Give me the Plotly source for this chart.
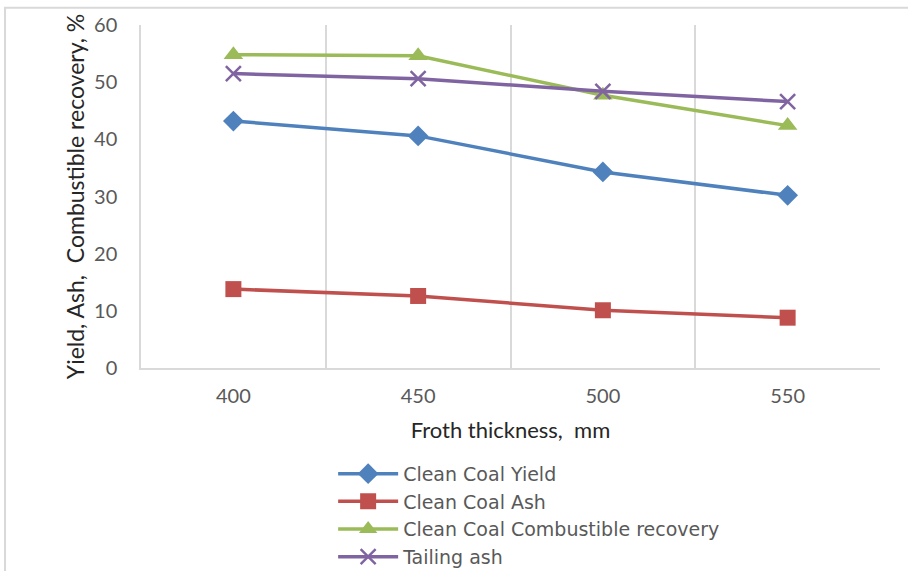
import plotly.graph_objects as go

thickness = ["400", "450", "500", "550"]
clean_coal_yield = [43.2, 40.6, 34.3, 30.2]
clean_coal_ash = [13.8, 12.6, 10.1, 8.8]
combustible_recovery = [54.8, 54.6, 47.7, 42.4]
tailing_ash = [51.5, 50.6, 48.4, 46.6]

FONT = "Lato"
GRID = "#d9d9d9"
TICK = "#595959"

series = [
    ("Clean Coal Yield", clean_coal_yield, "#4F81BD", dict(symbol="diamond", size=16)),
    ("Clean Coal Ash", clean_coal_ash, "#C0504D", dict(symbol="square", size=16)),
    ("Clean Coal Combustible recovery", combustible_recovery, "#9BBB59", dict(symbol="triangle-up", size=17)),
    ("Tailing ash", tailing_ash, "#8064A2", dict(symbol="x-thin-open", size=15, line=dict(width=2.5, color="#8064A2"))),
]

fig = go.Figure()
for name, vals, color, mk in series:
    marker = dict(color=color, **mk)
    fig.add_trace(go.Scatter(x=thickness, y=vals, name=name, mode="lines+markers",
                             line=dict(color=color, width=3.5), marker=marker))

fig.update_layout(
    width=908, height=571,
    margin=dict(l=141, r=28, t=25, b=203, autoexpand=False),
    paper_bgcolor="white", plot_bgcolor="white",
    font=dict(family=FONT, size=18, color=TICK),
    showlegend=True,
    legend=dict(x=0.26, y=-0.253, xanchor="left", yanchor="top",
                font=dict(family="DejaVu Sans", size=19, color=TICK),
                tracegroupgap=0, itemwidth=60, bgcolor="rgba(0,0,0,0)"),
    xaxis=dict(type="category", tickson="boundaries", showgrid=True, gridcolor=GRID, gridwidth=1.5,
               showline=True, linecolor=GRID, linewidth=1.5, ticks="", mirror=False,
               range=[-0.5, 3.5], tickfont=dict(family=FONT, size=20, color=TICK),
               ticklabelstandoff=9,
               title=dict(text="Froth thickness,  mm", font=dict(family=FONT, size=22, color="#262626"), standoff=17)),
    yaxis=dict(range=[0, 60], dtick=10, showgrid=False, zeroline=False, showline=True,
               linecolor=GRID, linewidth=1.5, ticks="",
               tickfont=dict(family=FONT, size=20, color=TICK), ticklabelstandoff=18,
               title=dict(text="Yield, Ash,  Combustible recovery, %", font=dict(family=FONT, size=23, color="#262626"), standoff=3)),
    shapes=[dict(type="rect", xref="paper", yref="paper", x0=-0.184, x1=1.2, y0=-0.9, y1=1.05,
                 line=dict(color="#d9d9d9", width=2), fillcolor="rgba(0,0,0,0)", layer="below")],
)

fig.write_html("out.html")
